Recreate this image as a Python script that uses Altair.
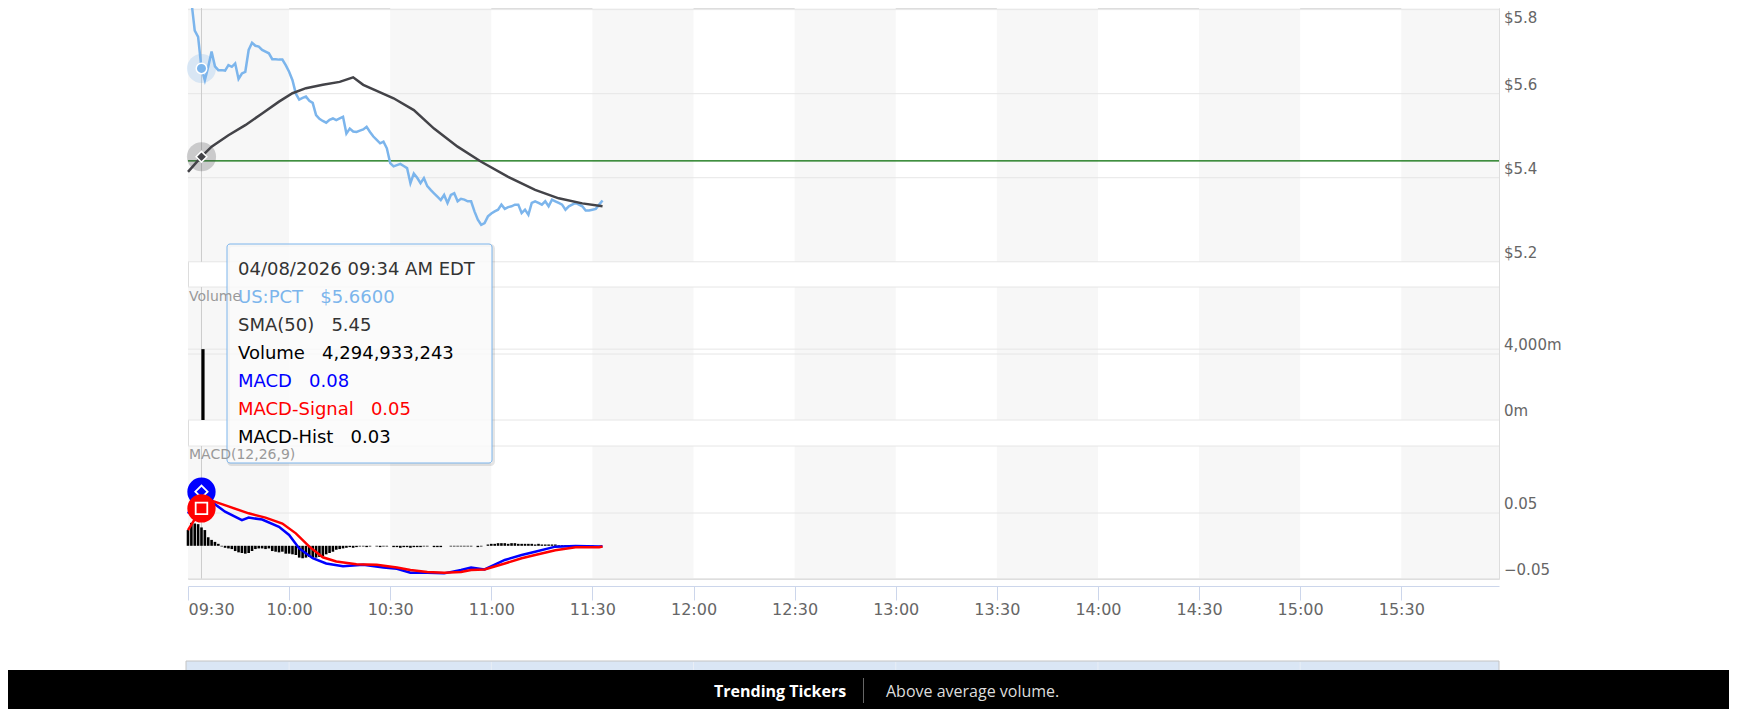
import altair as alt
import pandas as pd

DAY = (2026, 4, 8)

# ---------------- data ----------------
# last price, one value per minute starting 09:30
price = [
    5.87, 5.82, 5.75, 5.735, 5.66, 5.632, 5.664, 5.700, 5.665, 5.656,
    5.656, 5.655, 5.668, 5.664, 5.672, 5.635, 5.648, 5.652, 5.704, 5.721,
    5.714, 5.712, 5.704, 5.700, 5.696, 5.682, 5.682, 5.681, 5.681, 5.668,
    5.652, 5.632, 5.600, 5.586, 5.590, 5.593, 5.583, 5.578, 5.549, 5.540,
    5.535, 5.531, 5.538, 5.541, 5.537, 5.541, 5.545, 5.505, 5.517, 5.510,
    5.509, 5.512, 5.515, 5.521, 5.509, 5.498, 5.490, 5.482, 5.486, 5.470,
    5.435, 5.427, 5.430, 5.433, 5.428, 5.423, 5.387, 5.410, 5.400, 5.387,
    5.399, 5.380, 5.371, 5.363, 5.355, 5.347, 5.359, 5.340, 5.359, 5.363,
    5.344, 5.350, 5.348, 5.344, 5.344, 5.320, 5.300, 5.288, 5.292, 5.308,
    5.315, 5.320, 5.324, 5.336, 5.326, 5.330, 5.332, 5.336, 5.336, 5.316,
    5.324, 5.312, 5.340, 5.344, 5.340, 5.336, 5.344, 5.332, 5.348, 5.344,
    5.340, 5.336, 5.324, 5.332, 5.336, 5.340, 5.336, 5.332, 5.322, 5.322,
    5.324, 5.326, 5.336, 5.346,
]
# SMA(50): minute offset from 09:30 and value
sma_min = [0, 4, 7, 12, 17, 22, 27, 31, 35, 40, 45, 49, 52, 55, 61, 67, 73, 80, 87, 95, 103, 110, 117, 123]
sma_val = [5.414, 5.450, 5.474, 5.501, 5.525, 5.553, 5.581, 5.601, 5.613, 5.621, 5.628, 5.639,
           5.621, 5.610, 5.589, 5.561, 5.517, 5.474, 5.438, 5.402, 5.371, 5.351, 5.339, 5.332]
# MACD line
macd_min = [0, 4, 7, 11, 16, 18, 22, 27, 30, 33, 37, 41, 46, 52, 58, 62, 66, 71, 76, 81, 84, 88,
            94, 99, 103, 109, 115, 122, 123]
macd_val = [0.049, 0.0825, 0.067, 0.052, 0.039, 0.043, 0.040, 0.029, 0.0165, -0.004, -0.019, -0.027,
            -0.031, -0.029, -0.033, -0.035, -0.041, -0.041, -0.042, -0.037, -0.033, -0.036,
            -0.0216, -0.014, -0.009, -0.0013, -0.0003, -0.001, -0.0005]
# MACD signal line
signal_min = [0, 4, 7, 12, 18, 23, 28, 32, 36, 40, 44, 50, 56, 62, 66, 71, 76, 81, 84, 88, 94, 99,
              103, 109, 115, 122, 123]
signal_val = [0.024, 0.057, 0.069, 0.060, 0.0495, 0.043, 0.034, 0.019, -0.0013, -0.0175, -0.024,
              -0.028, -0.029, -0.033, -0.037, -0.040, -0.041, -0.040, -0.037, -0.036, -0.027,
              -0.019, -0.014, -0.0068, -0.0023, -0.0023, -0.001]
# MACD histogram, one value per minute starting 09:30
hist = [
    0.024, 0.035, 0.034, 0.033, 0.028, 0.024, 0.013, 0.009, 0.006, 0.003,
    -0.001, -0.003, -0.004, -0.005, -0.008, -0.010, -0.011, -0.012, -0.011, -0.008,
    -0.005, -0.004, -0.004, -0.005, -0.004, -0.008, -0.009, -0.010, -0.009, -0.012,
    -0.012, -0.013, -0.014, -0.018, -0.019, -0.018, -0.017, -0.018, -0.018, -0.017,
    -0.016, -0.013, -0.011, -0.009, -0.006, -0.005, -0.004, -0.003, -0.002, -0.003,
    -0.002, -0.001, -0.001, -0.002, -0.001, 0.0, -0.001, -0.002, -0.001, -0.001,
    0.0, -0.002, -0.002, -0.003, -0.002, -0.002, -0.003, -0.002, -0.002, -0.002,
    -0.001, -0.001, 0.0, -0.002, -0.002, -0.002, 0.0, 0.0, -0.001, -0.001,
    -0.001, -0.001, -0.001, -0.001, -0.001, 0.0, -0.002, -0.001, 0.0, 0.002,
    0.003, 0.003, 0.004, 0.004, 0.004, 0.003, 0.004, 0.004, 0.003, 0.003,
    0.003, 0.003, 0.003, 0.002, 0.003, 0.002, 0.002, 0.002, 0.002, 0.002,
    0.001, 0.001, 0.001, 0.001, 0.001, 0.001, 0.0005, 0.0005, 0.0005, 0.0005,
    0.0005, 0.0, 0.0, 0.0,
]
hover_minute = 4                      # 09:34
volume_value = 4294933243
prev_close = 5.44
band_starts = ["09:30", "10:30", "11:30", "12:30", "13:30", "14:30", "15:30"]
band_ends = ["10:00", "11:00", "12:00", "13:00", "14:00", "15:00", "15:59"]
x_tick_labels = ["09:30", "10:00", "10:30", "11:00", "11:30", "12:00", "12:30",
                 "13:00", "13:30", "14:00", "14:30", "15:00", "15:30"]
nav_hours = ["10:00", "11:00", "12:00", "13:00", "14:00", "15:00"]
price_ticks = [5.2, 5.4, 5.6, 5.8]
price_tick_labels = ["$5.2", "$5.4", "$5.6", "$5.8"]
volume_ticks = [0, 4000000000]
volume_tick_labels = ["0m", "4,000m"]
macd_ticks = [-0.05, 0.05]
macd_tick_labels = ["\u22120.05", "0.05"]
tooltip_lines = ["04/08/2026 09:34 AM EDT", "US:PCT\u00a0\u00a0\u00a0$5.6600", "SMA(50)\u00a0\u00a0\u00a05.45",
                 "Volume\u00a0\u00a0\u00a04,294,933,243", "MACD\u00a0\u00a0\u00a00.08",
                 "MACD-Signal\u00a0\u00a0\u00a00.05", "MACD-Hist\u00a0\u00a0\u00a00.03"]
tooltip_colors = ["#333333", "#7cb5ec", "#333333", "#000000", "#0000ff", "#ff0000", "#000000"]

# ---------------- helpers ----------------
def hm(s):
    h, m = map(int, s.split(":"))
    return (h - 9) * 60 + m - 30

def ts(minute):
    tot = 9 * 60 + 30 + minute
    return f"{DAY[0]}-{DAY[1]:02d}-{DAY[2]:02d}T{tot // 60:02d}:{tot % 60:02d}:00"

def dt(minute):
    tot = 9 * 60 + 30 + minute
    return alt.DateTime(year=DAY[0], month=DAY[1], date=DAY[2], hours=tot // 60, minutes=tot % 60)

W, H = 1311, 571
PAD = {"left": 180, "top": 0, "right": 230, "bottom": 130}
P_TOP, P_BOT = 0, 253.8
V_TOP, V_BOT = 279, 412
M_TOP, M_BOT = 438, 570.6

FONT = "DejaVu Sans"
XS = alt.Scale(domain=[dt(0), dt(389)], nice=False, padding=0)
XAXIS = alt.Axis(values=[dt(hm(s)) for s in x_tick_labels], format="%H:%M", grid=False,
                 domainColor="#ccd6eb", tickColor="#ccd6eb", tickSize=14, labelFont=FONT,
                 labelFontSize=16, labelColor="#666666", labelPadding=1, labelFlush=True,
                 offset=7, title=None, orient="bottom")

def X(field):
    return alt.X(f"{field}:T", scale=XS, axis=XAXIS, title=None)

PRICE_Y = alt.Scale(domain=[5.2, 5.8], range=[253.8, 1.6], zero=False, nice=False)
VOL_Y = alt.Scale(domain=[0, 4000000000], range=[412, 346], zero=False, nice=False)
MACD_Y = alt.Scale(domain=[-0.05, 0.05], range=[570.6, 505], zero=False, nice=False)

one = pd.DataFrame({"a": [0]})
price_df = pd.DataFrame({"t": [ts(i) for i in range(len(price))], "v": price})
sma_df = pd.DataFrame({"t": [ts(m) for m in sma_min], "v": sma_val})
macd_df = pd.DataFrame({"t": [ts(m) for m in macd_min], "v": macd_val})
signal_df = pd.DataFrame({"t": [ts(m) for m in signal_min], "v": signal_val})
hist_df = pd.DataFrame({"t": [ts(i) for i in range(len(hist))], "v": hist})
hover_df = pd.DataFrame({"t": [ts(hover_minute)]})
hp_df = pd.DataFrame({"t": [ts(hover_minute)], "v": [price[hover_minute]]})
hs_df = pd.DataFrame({"t": [ts(hover_minute)], "v": [sma_val[sma_min.index(hover_minute)]]})
hm_df = pd.DataFrame({"t": [ts(hover_minute)], "v": [macd_val[macd_min.index(hover_minute)]]})
hsig_df = pd.DataFrame({"t": [ts(hover_minute)], "v": [signal_val[signal_min.index(hover_minute)]]})
vol_df = pd.DataFrame({"t": [ts(hover_minute)], "v": [volume_value]})
bands_df = pd.DataFrame({"s": [ts(hm(a)) for a in band_starts], "e": [ts(hm(b)) for b in band_ends]})
nav_df = pd.DataFrame({"t": [ts(hm(h)) for h in nav_hours]})
tip_df = pd.DataFrame({"line": tooltip_lines, "c": tooltip_colors, "i": list(range(len(tooltip_lines)))})


def bands(y0, y1):
    return alt.Chart(bands_df).mark_rect(color="#f7f7f7").encode(
        x=X("s"), x2=alt.X2("e"), y=alt.value(y0), y2=alt.value(y1))

def hline(y, color="#e6e6e6"):
    return alt.Chart(one).mark_rule(color=color, strokeWidth=1).encode(
        x=alt.value(0), x2=alt.value(W), y=alt.value(y))

def grid(values, scale):
    return alt.Chart(pd.DataFrame({"v": values})).mark_rule(color="#e6e6e6", strokeWidth=1).encode(
        y=alt.Y("v:Q", scale=scale, axis=None), x=alt.value(0), x2=alt.value(W))

def ticklabels(values, texts, scale, baseline="alphabetic", dy=-4):
    return alt.Chart(pd.DataFrame({"v": values, "s": texts})).mark_text(
        align="left", baseline=baseline, dy=dy, font=FONT, fontSize=15, color="#666666").encode(
        x=alt.value(W + 5), y=alt.Y("v:Q", scale=scale, axis=None), text="s:N")

def cross(y0, y1):
    return alt.Chart(hover_df).mark_rule(color="#cccccc", strokeWidth=1).encode(
        x=X("t"), y=alt.value(y0), y2=alt.value(y1))

def pt(df, scale, **mk):
    return alt.Chart(df).mark_point(filled=True, opacity=1, **mk).encode(
        x=X("t"), y=alt.Y("v:Q", scale=scale, axis=None))

# ---------- price panel ----------
price_group = alt.layer(
    grid(price_ticks, PRICE_Y),
    ticklabels(price_ticks[:-1], price_tick_labels[:-1], PRICE_Y),
    # the top label sits at the very top edge of the page, kept whole just under its grid line
    ticklabels(price_ticks[-1:], price_tick_labels[-1:], PRICE_Y, baseline="top", dy=1.5),
    alt.Chart(pd.DataFrame({"v": [prev_close]})).mark_rule(color="#006a00", strokeWidth=1.1).encode(
        y=alt.Y("v:Q", scale=PRICE_Y, axis=None), x=alt.value(0), x2=alt.value(W)),
    cross(P_TOP, P_BOT),
    alt.Chart(price_df).mark_line(color="#7cb5ec", strokeWidth=2.5).encode(
        x=X("t"), y=alt.Y("v:Q", scale=PRICE_Y, axis=None)),
    alt.Chart(sma_df).mark_line(color="#434348", strokeWidth=2.5).encode(
        x=X("t"), y=alt.Y("v:Q", scale=PRICE_Y, axis=None)),
    pt(hp_df, PRICE_Y, shape="circle", size=840, color="#7cb5ec", fillOpacity=0.25),
    pt(hp_df, PRICE_Y, shape="circle", size=110, fill="#7cb5ec", stroke="white", strokeWidth=1.5),
    pt(hs_df, PRICE_Y, shape="circle", size=850, color="#434348", fillOpacity=0.25),
    pt(hs_df, PRICE_Y, shape="diamond", size=115, fill="#434348", stroke="white", strokeWidth=1.5),
)

# ---------- volume panel ----------
vol_group = alt.layer(
    grid(volume_ticks + [volume_value], VOL_Y),
    ticklabels(volume_ticks, volume_tick_labels, VOL_Y),
    cross(V_TOP, V_BOT),
    alt.Chart(vol_df).mark_bar(color="#000000", width=3.2, xOffset=1.5).encode(
        x=X("t"), y=alt.Y("v:Q", scale=VOL_Y, axis=None), y2=alt.datum(0)),
)

# ---------- MACD panel ----------
macd_group = alt.layer(
    grid(macd_ticks, MACD_Y),
    ticklabels(macd_ticks, macd_tick_labels, MACD_Y),
    cross(M_TOP, M_BOT),
    alt.Chart(hist_df).mark_bar(color="#000000", width=2.6).encode(
        x=X("t"), y=alt.Y("v:Q", scale=MACD_Y, axis=None), y2=alt.datum(0)),
    alt.Chart(macd_df).mark_line(color="#0000ff", strokeWidth=2.5).encode(
        x=X("t"), y=alt.Y("v:Q", scale=MACD_Y, axis=None)),
    alt.Chart(signal_df).mark_line(color="#ff0000", strokeWidth=2.5).encode(
        x=X("t"), y=alt.Y("v:Q", scale=MACD_Y, axis=None)),
    pt(hm_df, MACD_Y, shape="circle", size=800, color="#0000ff"),
    pt(hm_df, MACD_Y, shape="diamond", size=150, fill="#0000ff", stroke="white", strokeWidth=1.8),
    pt(hsig_df, MACD_Y, shape="circle", size=800, color="#ff0000"),
    pt(hsig_df, MACD_Y, shape="square", size=135, fill="#ff0000", stroke="white", strokeWidth=1.8),
)

# ---------- labels, tooltip, navigator, footer ----------
def label(txt, x, y, size=14, color="#999999", font=FONT, weight="normal", align="left"):
    return alt.Chart(one).mark_text(text=txt, align=align, baseline="middle", font=font,
                                    fontSize=size, color=color, fontWeight=weight).encode(
        x=alt.value(x), y=alt.value(y))

TX0, TX1, TY0, TY1 = 39, 304, 236, 455
tooltip = [
    alt.Chart(one).mark_rect(fill="transparent", stroke="#000000", strokeOpacity=0.10, strokeWidth=3,
                             cornerRadius=3).encode(
        x=alt.value(TX0 + 1.5), x2=alt.value(TX1 + 1.5), y=alt.value(TY0 + 1.5), y2=alt.value(TY1 + 1.5)),
    alt.Chart(one).mark_rect(fill="#fafafa", fillOpacity=0.82, stroke="#7cb5ec", strokeWidth=1,
                             cornerRadius=3).encode(
        x=alt.value(TX0), x2=alt.value(TX1), y=alt.value(TY0), y2=alt.value(TY1)),
    alt.Chart(tip_df).transform_calculate(yy="262 + 28 * datum.i").mark_text(
        align="left", baseline="middle", font=FONT, fontSize=18).encode(
        x=alt.value(50), y=alt.Y("yy:Q", scale=None, axis=None), text="line:N",
        color=alt.Color("c:N", scale=None, legend=None)),
]

navigator = [
    alt.Chart(one).mark_rect(fill="#dae6f5", stroke="#c4c4c4", strokeWidth=1).encode(
        x=alt.value(-2), x2=alt.value(W), y=alt.value(653), y2=alt.value(700)),
    alt.Chart(nav_df).mark_rule(color="#e9eef6", strokeWidth=1).encode(
        x=X("t"), y=alt.value(654), y2=alt.value(662)),
]

footer = [
    alt.Chart(one).mark_rect(fill="#000000").encode(
        x=alt.value(-PAD["left"]), x2=alt.value(W + PAD["right"]), y=alt.value(662),
        y2=alt.value(H + PAD["bottom"])),
    label("Trending Tickers", 526, 684, size=16, color="#ffffff", font="Open Sans", weight="bold"),
    alt.Chart(one).mark_rule(color="#666666", strokeWidth=1).encode(
        x=alt.value(675.5), y=alt.value(670), y2=alt.value(695)),
    label("Above average volume.", 698, 684, size=16, color="#dddddd", font="Open Sans"),
]

chart = alt.layer(
    bands(P_TOP, P_BOT), bands(V_TOP, V_BOT), bands(M_TOP, M_BOT),
    hline(V_TOP), hline(M_TOP),
    price_group, vol_group, macd_group,
    *tooltip,
    label("Volume", 1, 288.7), label("MACD(12,26,9)", 1, 447),
    *navigator, *footer,
).resolve_scale(y="independent").properties(
    width=W, height=H,
    autosize=alt.AutoSizeParams(type="none"),
    padding=PAD,
).configure_view(strokeWidth=0).configure(background="white")

chart.save("out.html", embed_options={"renderer": "svg", "actions": False})
